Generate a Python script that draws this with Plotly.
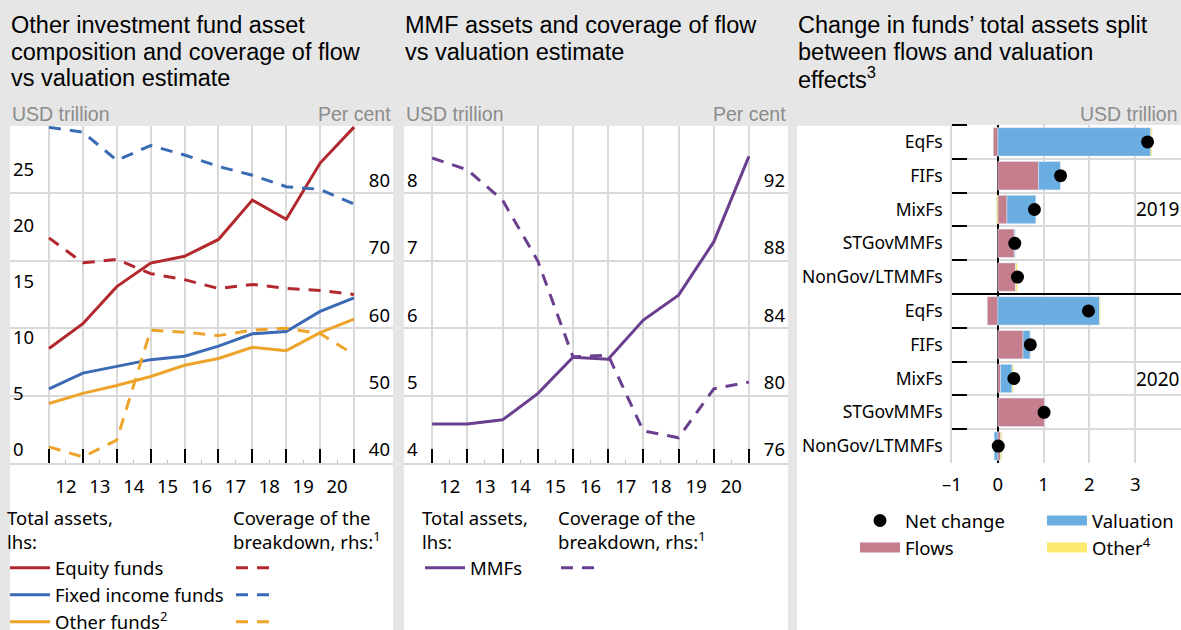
import plotly.graph_objects as go

W, H = 1181, 630

# year starts: first point is end-2011, last is end-2020
year_points = [2012, 2013, 2014, 2015, 2016, 2017, 2018, 2019, 2020, 2021]
year_labels = ["12", "13", "14", "15", "16", "17", "18", "19", "20"]

# panel 1: other investment funds (USD trillion, lhs) and coverage (per cent, rhs)
equity_assets = [10.2, 12.4, 15.7, 17.8, 18.4, 19.9, 23.4, 21.7, 26.7, 29.9]
fixed_income_assets = [6.6, 8.0, 8.6, 9.2, 9.5, 10.4, 11.5, 11.7, 13.5, 14.7]
other_assets = [5.3, 6.2, 6.9, 7.7, 8.7, 9.3, 10.3, 10.0, 11.6, 12.8]
equity_cov = [73.4, 69.7, 70.2, 68.1, 67.2, 65.9, 66.5, 65.9, 65.6, 65.0]
fixed_income_cov = [89.8, 89.1, 84.9, 87.1, 85.7, 84.0, 82.7, 81.0, 80.6, 78.4]
other_cov = [42.4, 40.9, 43.4, 59.7, 59.4, 58.9, 59.7, 60.0, 59.2, 56.1]

# panel 2: MMFs
mmf_assets = [4.58, 4.58, 4.64, 5.03, 5.57, 5.54, 6.12, 6.49, 7.28, 8.55]
mmf_cov = [94.1, 93.4, 91.6, 88.0, 82.3, 82.4, 77.9, 77.5, 80.4, 80.8]

# panel 3: change in total assets (USD trillion)
fund_types = ["EqFs", "FIFs", "MixFs", "STGovMMFs", "NonGov/LTMMFs"]
flows_2019 = [-0.10, 0.89, 0.20, 0.36, 0.39]
valuation_2019 = [3.34, 0.48, 0.63, 0.02, 0.00]
other_2019 = [0.03, 0.00, -0.03, 0.00, 0.04]
net_2019 = [3.27, 1.37, 0.80, 0.37, 0.43]
flows_2020 = [-0.23, 0.55, 0.06, 1.03, 0.06]
valuation_2020 = [2.22, 0.16, 0.25, 0.00, -0.08]
other_2020 = [0.02, 0.00, 0.03, 0.00, 0.03]
net_2020 = [1.98, 0.71, 0.35, 1.01, 0.01]

RED = "#b3282d"
BLUE = "#3a6ab4"
ORANGE = "#eea42a"
PURPLE = "#6b3f8f"
PINK = "#c47e8e"
LIGHTBLUE = "#6aade0"
YELLOW = "#fde96e"
GRID = "#d9d9d9"
BG = "#e6e6e6"
DASH = "12px,9px"

TITLE_FONT = dict(family="Liberation Sans, Arial", size=23.5, color="black")
HEAD_FONT = dict(family="Liberation Sans, Arial", size=19.5, color="#8c8c8c")
TICK_FONT = dict(family="Noto Sans", size=18.5, color="black")
CAT_FONT = dict(family="Noto Sans", size=17.5, color="black")
LEG_FONT = dict(family="Noto Sans", size=18.5, color="black")


def px_x(p):
    return p / W


def px_y(p):
    return 1 - p / H


fig = go.Figure()

# panel 1
for name, vals, col in [("Equity funds", equity_assets, RED),
                        ("Fixed income funds", fixed_income_assets, BLUE),
                        ("Other funds<sup>2</sup>", other_assets, ORANGE)]:
    fig.add_trace(go.Scatter(x=year_points, y=vals, mode="lines", name=name,
                             line=dict(color=col, width=3), xaxis="x", yaxis="y",
                             legend="legend"))
for vals, col in [(equity_cov, RED), (fixed_income_cov, BLUE), (other_cov, ORANGE)]:
    fig.add_trace(go.Scatter(x=year_points, y=vals, mode="lines", name=" ",
                             line=dict(color=col, width=3, dash=DASH), xaxis="x", yaxis="y2",
                             legend="legend2"))

# panel 2
fig.add_trace(go.Scatter(x=year_points, y=mmf_assets, mode="lines", name="MMFs",
                         line=dict(color=PURPLE, width=3), xaxis="x2", yaxis="y3",
                         legend="legend3"))
fig.add_trace(go.Scatter(x=year_points, y=mmf_cov, mode="lines", name=" ",
                         line=dict(color=PURPLE, width=3, dash=DASH), xaxis="x2", yaxis="y4",
                         legend="legend4"))

# panel 3: rows top to bottom, 2019 above the zero line, 2020 below
n = len(fund_types)
rows = [n - 0.5 - i for i in range(n)] + [-0.5 - i for i in range(n)]
row_labels = fund_types + fund_types
flows = flows_2019 + flows_2020
valuation = valuation_2019 + valuation_2020
other = other_2019 + other_2020
net = net_2019 + net_2020

for name, vals, col, leg in [("Flows", flows, PINK, "legend5"),
                             ("Valuation", valuation, LIGHTBLUE, "legend6"),
                             ("Other<sup>4</sup>", other, YELLOW, "legend6")]:
    fig.add_trace(go.Bar(y=rows, x=vals, orientation="h", name=name, marker_color=col,
                         xaxis="x3", yaxis="y5", showlegend=False))
    # wide legend key like the original's colour boxes
    fig.add_trace(go.Scatter(x=[None], y=[None], mode="lines", name=name,
                             line=dict(color=col, width=15), xaxis="x3", yaxis="y5",
                             legend=leg, legendrank=2))
fig.add_trace(go.Scatter(y=rows, x=net, mode="markers", name="Net change",
                         marker=dict(color="black", size=13), xaxis="x3", yaxis="y5",
                         legend="legend5", legendrank=1))

y_dom = [px_y(463), px_y(126)]
half_years = [y + 0.5 for y in year_points[:-1]]


def year_axis(dom, rng, anchor):
    return dict(domain=dom, anchor=anchor, range=rng, tickmode="array",
                tickvals=half_years, ticktext=year_labels, ticks="inside", ticklen=3,
                tickcolor="#bfbfbf", showgrid=False, zeroline=False, showline=True,
                linecolor=GRID, linewidth=2, tickfont=TICK_FONT, ticklabelstandoff=6,
                minor=dict(tickmode="array", tickvals=year_points, ticks="inside",
                           ticklen=14, tickcolor="black", tickwidth=1.5, showgrid=True,
                           gridcolor=GRID, gridwidth=1.5))


def value_axis(rng, vals, side, anchor, grid, overlay=None):
    d = dict(range=rng, tickmode="array", tickvals=vals, side=side, anchor=anchor,
             ticklabelposition="inside", ticklabelshift=-13, ticks="", showgrid=grid,
             gridcolor=GRID, gridwidth=1.5, zeroline=False, showline=False,
             tickfont=TICK_FONT)
    if overlay:
        d["overlaying"] = overlay
    else:
        d["domain"] = y_dom
    return d


legend_base = dict(font=LEG_FONT, bgcolor="rgba(0,0,0,0)", yanchor="top", xanchor="left",
                   tracegroupgap=0, itemwidth=40, traceorder="normal",
                   title_font=LEG_FONT, itemclick=False)

fig.update_layout(
    width=W, height=H,
    margin=dict(l=0, r=0, t=0, b=0, autoexpand=False),
    paper_bgcolor=BG, plot_bgcolor="white",
    showlegend=True,
    barmode="relative", bargap=0.16,
    xaxis=year_axis([px_x(10), px_x(393)], [2010.85, 2022.15], "y"),
    yaxis=value_axis([0, 30], [0, 5, 10, 15, 20, 25], "left", "x", False),
    yaxis2=value_axis([40, 90], [40, 50, 60, 70, 80], "right", "x", True, "y"),
    xaxis2=year_axis([px_x(404), px_x(788)], [2011.2, 2022.11], "y3"),
    yaxis3=value_axis([4, 9], [4, 5, 6, 7, 8], "left", "x2", False),
    yaxis4=value_axis([76, 96], [76, 80, 84, 88, 92], "right", "x2", True, "y3"),
    xaxis3=dict(domain=[px_x(952), 1], anchor="y5", range=[-1, 4], tickmode="array",
                tickvals=[-1, 0, 1, 2, 3], ticktext=["–1", "0", "1", "2", "3"],
                showgrid=True, gridcolor=GRID, gridwidth=1.5, zeroline=True,
                zerolinecolor="black", zerolinewidth=1.5, ticks="", tickfont=TICK_FONT,
                ticklabelstandoff=8, showline=False),
    yaxis5=dict(domain=[px_y(463), px_y(125)], anchor="x3", range=[-5, 5],
                tickmode="array", tickvals=rows, ticktext=row_labels, ticks="",
                showgrid=False, zeroline=True, zerolinecolor="black", zerolinewidth=1.5,
                tickfont=CAT_FONT, ticklabelstandoff=4, showline=True, linecolor=GRID,
                linewidth=1.5,
                minor=dict(tickmode="array", tickvals=[-4, -3, -2, -1, 1, 2, 3, 4, 5],
                           ticks="inside", ticklen=15, tickcolor="black", tickwidth=1.5,
                           showgrid=True, gridcolor=GRID, gridwidth=1.5)),
    legend=dict(legend_base, x=px_x(5), y=px_y(501), title_text="Total assets,<br>lhs:"),
    legend2=dict(legend_base, x=px_x(231), y=px_y(501),
                 title_text="Coverage of the<br>breakdown, rhs:<sup>1</sup>"),
    legend3=dict(legend_base, x=px_x(420), y=px_y(501), title_text="Total assets,<br>lhs:"),
    legend4=dict(legend_base, x=px_x(556), y=px_y(501),
                 title_text="Coverage of the<br>breakdown, rhs:<sup>1</sup>"),
    legend5=dict(legend_base, x=px_x(855), y=px_y(502)),
    legend6=dict(legend_base, x=px_x(1042), y=px_y(502)),
)

# white panel backgrounds
for x0, x1 in [(10, 393), (404, 788), (797, 1181)]:
    fig.add_shape(type="rect", xref="paper", yref="paper", x0=px_x(x0), x1=px_x(x1),
                  y0=0, y1=px_y(126), fillcolor="white", line_width=0, layer="below")

# titles, one annotation per line to keep the tight line spacing
titles = [
    (10, ["Other investment fund asset", "composition and coverage of flow",
          "vs valuation estimate"]),
    (404, ["MMF assets and coverage of flow", "vs valuation estimate"]),
    (797, ["Change in funds’ total assets split", "between flows and valuation",
           "effects<sup>3</sup>"]),
]
for x, lines in titles:
    for i, text in enumerate(lines):
        fig.add_annotation(text=text, xref="paper", yref="paper", x=px_x(x - 1),
                           y=px_y(25 + 26.6 * i), xanchor="left", yanchor="middle",
                           align="left", showarrow=False, font=TITLE_FONT)

headers = [(10, "USD trillion", "left"), (393, "Per cent", "right"),
           (404, "USD trillion", "left"), (788, "Per cent", "right"),
           (1180, "USD trillion", "right")]
for x, text, anchor in headers:
    fig.add_annotation(text=text, xref="paper", yref="paper", x=px_x(x), y=px_y(114),
                       xanchor=anchor, yanchor="middle", showarrow=False, font=HEAD_FONT)

for yr, ypos in [("2019", rows[2]), ("2020", rows[7])]:
    fig.add_annotation(text=yr, xref="x3", yref="y5", x=4, y=ypos, xanchor="right",
                       yanchor="middle", showarrow=False,
                       font=dict(family="Noto Sans", size=19, color="black"))

fig.write_html("out.html", config={"displayModeBar": False},
               post_script="document.body.style.margin='0';")
